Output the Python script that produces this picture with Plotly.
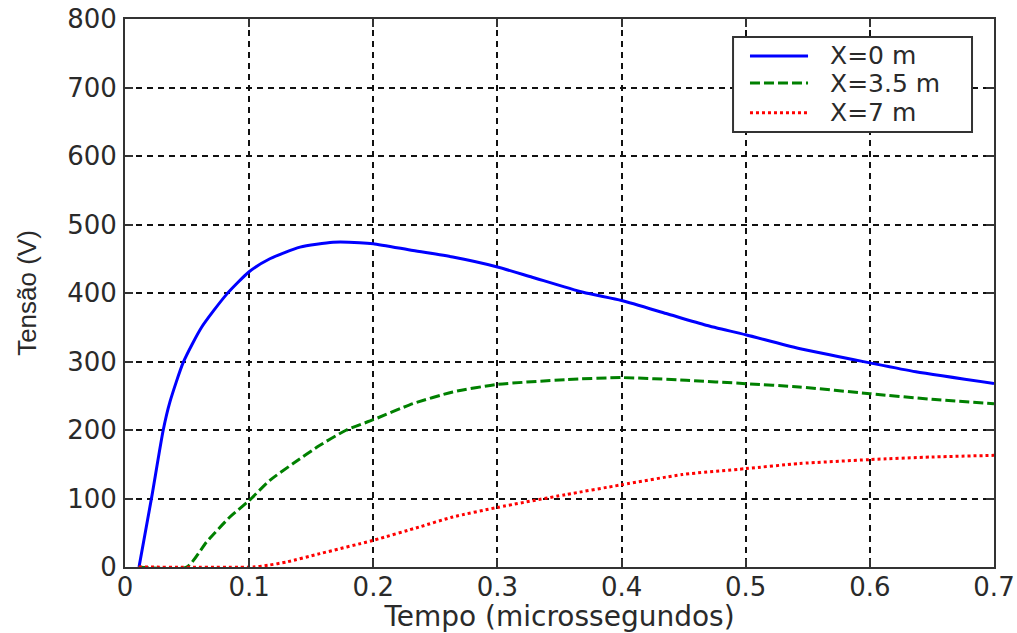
import plotly.graph_objects as go

# Data
t_x0 = [0.0113, 0.0215, 0.0308, 0.0362, 0.047, 0.0617, 0.0818, 0.1, 0.1167, 0.141, 0.1676,
        0.189, 0.2, 0.232, 0.264, 0.3, 0.328, 0.369, 0.4, 0.436, 0.468, 0.5, 0.543, 0.6, 0.637, 0.7]
v_x0 = [0, 102, 200, 241, 299, 350, 398, 431, 450, 467, 474,
        473.5, 472, 462, 452.5, 438, 423, 401, 389, 370, 353, 339, 319, 298, 285, 268]

t_x35 = [0.011, 0.0497, 0.0657, 0.0845, 0.1, 0.1167, 0.1354, 0.157, 0.178, 0.2, 0.232,
         0.264, 0.3, 0.355, 0.4, 0.452, 0.5, 0.543, 0.6, 0.65, 0.7]
v_x35 = [0, 0, 36.5, 73, 97, 126.6, 151, 177.7, 199.6, 215, 238.5,
         255.5, 266.5, 273.5, 276.5, 272.6, 267.7, 262.8, 253, 244.8, 238.5]

t_x7 = [0.011, 0.103, 0.115, 0.13, 0.157, 0.2, 0.237, 0.264, 0.3, 0.355, 0.4, 0.449,
        0.5, 0.543, 0.6, 0.65, 0.7]
v_x7 = [0, 0, 2.5, 7.3, 19.5, 39, 58.4, 73, 87, 105.7, 120, 135,
        143.6, 151, 156.8, 160.6, 163]

series_names = ["X=0 m", "X=3.5 m", "X=7 m"]
series_colors = ["#0000ff", "#008000", "#ff0000"]
series_dash = ["solid", "10px,4px", "3px,3px"]
x_ticks = [0, 0.1, 0.2, 0.3, 0.4, 0.5, 0.6, 0.7]
x_tick_labels = ["0", "0.1", "0.2", "0.3", "0.4", "0.5", "0.6", "0.7"]
y_ticks = [0, 100, 200, 300, 400, 500, 600, 700, 800]

fig = go.Figure()
series = [(t_x0, v_x0), (t_x35, v_x35), (t_x7, v_x7)]
for (tx, vy), name, col, dash in zip(series, series_names, series_colors, series_dash):
    fig.add_trace(go.Scatter(x=tx, y=vy, mode="lines", name=name, showlegend=False,
                             line=dict(color=col, width=3, dash=dash,
                                       shape="spline", smoothing=0.6)))

text_color = "#2a2a2a"
tick_font = dict(family="DejaVu Sans", size=26, color=text_color)
axis_common = dict(
    showline=True, linecolor="#333333", linewidth=2, mirror="ticks",
    ticks="inside", ticklen=8, tickwidth=1.5, tickcolor="#333333",
    showgrid=True, gridcolor="#111111", gridwidth=1.5, griddash="6px,5px",
    zeroline=False, tickfont=tick_font, automargin=False,
)

# Legend box drawn in plot-area (paper) coordinates, top-right corner
leg_box = dict(x0=0.6997, x1=0.9747, y0=0.7938, y1=0.9672)
leg_line_x = (0.7192, 0.7860)
leg_text_x = 0.8090
leg_rows_y = [0.9325, 0.8832, 0.8290]

shapes = [dict(type="rect", xref="paper", yref="paper", **leg_box,
               line=dict(color="#333333", width=2), fillcolor="white", layer="above")]
annotations = []
for name, col, dash, yy in zip(series_names, series_colors, series_dash, leg_rows_y):
    shapes.append(dict(type="line", xref="paper", yref="paper",
                       x0=leg_line_x[0], x1=leg_line_x[1], y0=yy, y1=yy,
                       line=dict(color=col, width=3, dash=dash), layer="above"))
    annotations.append(dict(xref="paper", yref="paper", x=leg_text_x, y=yy,
                            xanchor="left", yanchor="middle", showarrow=False,
                            text=name, height=27, valign="middle",
                            font=dict(family="DejaVu Sans", size=25, color=text_color)))

fig.update_layout(
    width=1017, height=633,
    margin=dict(l=125, r=23, t=19, b=66),
    paper_bgcolor="white", plot_bgcolor="white",
    xaxis=dict(range=[0, 0.7], tickvals=x_ticks, ticktext=x_tick_labels,
               title=dict(text="Tempo (microssegundos)",
                          font=dict(family="DejaVu Sans", size=28, color=text_color),
                          standoff=0),
               ticklabelstandoff=-4,
               **axis_common),
    yaxis=dict(range=[0, 800], tickvals=y_ticks,
               title=dict(text="Tensão (V)",
                          font=dict(family="Liberation Sans", size=26, color=text_color),
                          standoff=23),
               ticklabelstandoff=1,
               **axis_common),
    shapes=shapes,
    annotations=annotations,
    showlegend=False,
)

fig.write_html("out.html", config={"displayModeBar": False},
               post_script="document.body.style.margin='0px';document.body.style.overflow='hidden';")
